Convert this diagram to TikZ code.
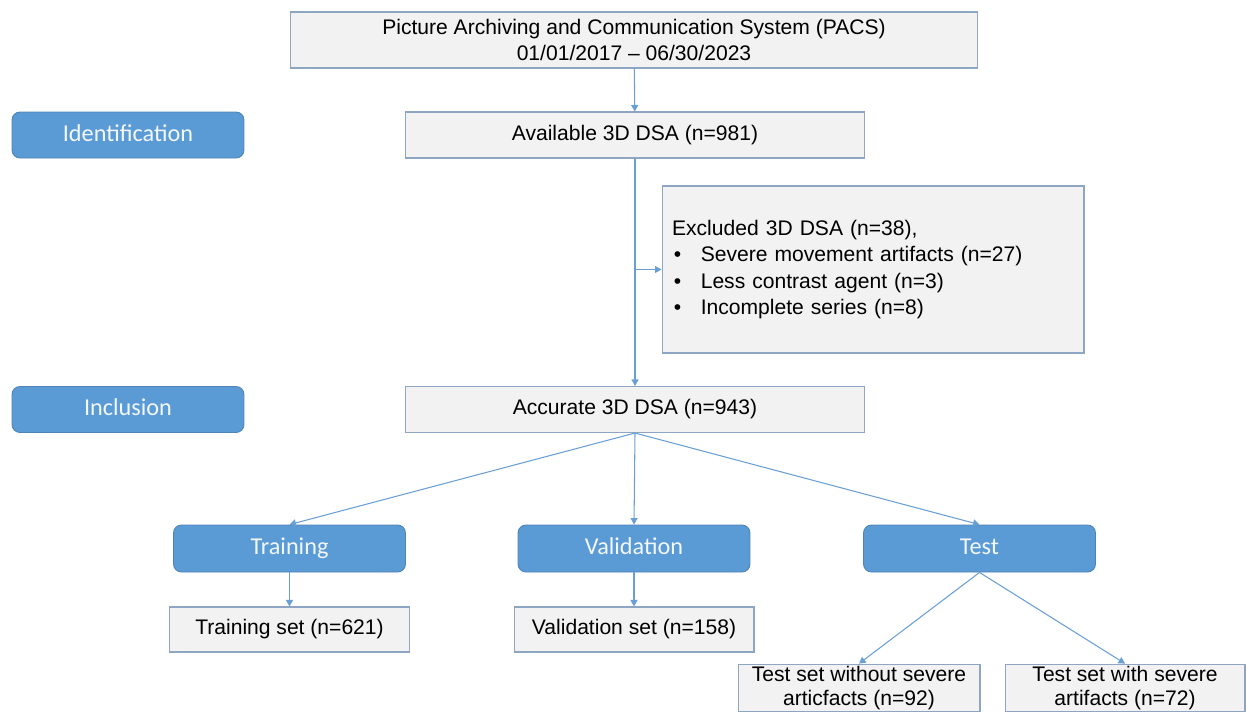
\documentclass[tikz,border=0pt]{standalone}
\usepackage{fontspec}
\setmainfont{Liberation Sans}
\newfontfamily\calibri{Carlito}
\usetikzlibrary{arrows.meta}
\definecolor{flowblue}{HTML}{5B9BD5}
\definecolor{flowline}{HTML}{6A9FD6}
\definecolor{boxgrey}{HTML}{F2F2F2}
\definecolor{boxedge}{HTML}{8EA6C4}

\begin{document}
\begin{tikzpicture}[x=0.02cm,y=-0.02cm,
    greybox/.style={draw=boxedge,fill=boxgrey,line width=0.6pt,align=center,inner sep=1pt,
      font=\fontsize{12}{14.5}\selectfont},
    bluebox/.style={draw=flowblue!85!black,fill=flowblue,rounded corners=0.16cm,line width=0.5pt,
      text=white!92!flowblue,minimum width=4.64cm,text height=9.5pt,text depth=2.5pt,
      font=\calibri\fontsize{13.8}{16}\selectfont},
    link/.style={draw=flowline,line width=0.6pt,-{Triangle[length=1.3mm,width=1.4mm]}}]
  \useasboundingbox (0,0) rectangle (1246,711);

  % source and screening
  \node(PACS)[greybox,minimum width=13.76cm,minimum height=1.12cm] at (634,40)
    {Picture Archiving and Communication System (PACS)\\01/01/2017 -- 06/30/2023};
  \node(Ident)[bluebox,minimum height=0.92cm] at (128,135) {Identification};
  \node(Avail)[greybox,minimum width=9.2cm,minimum height=0.92cm] at (635,135) {Available 3D DSA (n=981)};
  \node(Excl)[greybox,align=left,text width=8.04cm,inner xsep=0.2cm,minimum height=3.34cm,
    font=\fontsize{12}{15}\selectfont] at (873,269.5)
    {Excluded 3D DSA (n=38),\\
     \hspace*{1pt}\makebox[0.54cm][l]{•}Severe movement artifacts (n=27)\\
     \hspace*{1pt}\makebox[0.54cm][l]{•}Less contrast agent (n=3)\\
     \hspace*{1pt}\makebox[0.54cm][l]{•}Incomplete series (n=8)};
  \node(Incl)[bluebox,minimum height=0.92cm] at (128,409.5) {Inclusion};
  \node(Accur)[greybox,minimum width=9.2cm,minimum height=0.92cm] at (635,409.5) {Accurate 3D DSA (n=943)};

  \draw[link] (PACS) -- (Avail);
  \draw[link] (Avail) -- (Accur);
  \coordinate(Split) at (Avail.south |- Excl.west);
  \draw[link] (Split) -- (Excl.west);

  % data split
  \node(Train)[bluebox,minimum height=0.94cm] at (289.5,548.5) {Training};
  \node(Valid)[bluebox,minimum height=0.94cm] at (634,548.5) {Validation};
  \node(Test)[bluebox,minimum height=0.94cm] at (979.5,548.5) {Test};

  \draw[link] (Accur.south) -- (Train.north);
  \draw[link] (Accur.south) -- (Valid.north);
  \draw[link] (Accur.south) -- (Test.north);

  \node(TrainSet)[greybox,minimum width=4.8cm,minimum height=0.9cm] at (289.5,629.5) {Training set (n=621)};
  \node(ValidSet)[greybox,minimum width=4.8cm,minimum height=0.9cm] at (634,629.5) {Validation set (n=158)};
  \node(TestClean)[greybox,minimum width=4.84cm,minimum height=0.92cm,font=\fontsize{12}{14}\selectfont] at (859,688)
    {Test set without severe\\articfacts (n=92)};
  \node(TestArt)[greybox,minimum width=4.8cm,minimum height=0.92cm,font=\fontsize{12}{14}\selectfont] at (1125,688)
    {Test set with severe\\artifacts (n=72)};

  \draw[link] (Train) -- (TrainSet);
  \draw[link] (Valid) -- (ValidSet);
  \draw[link] (Test.south) -- (TestClean.north);
  \draw[link] (Test.south) -- (TestArt.north);
\end{tikzpicture}
\end{document}
